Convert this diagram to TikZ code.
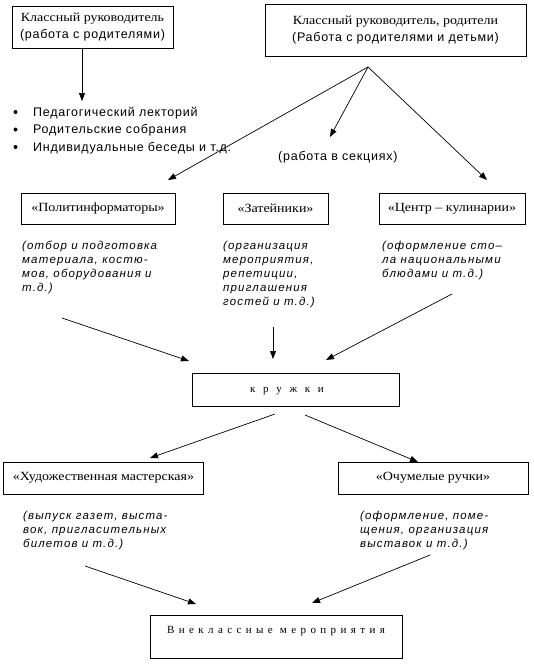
\documentclass[tikz,border=0pt]{standalone}
\usepackage{fontspec}
\usetikzlibrary{arrows.meta}
\setmainfont{Liberation Serif}
\newfontfamily\bxfont[FakeStretch=1.12]{Liberation Serif}
\newfontfamily\safont[LetterSpace=6]{Liberation Sans}
\newfontfamily\itfont[LetterSpace=10]{Liberation Sans Italic}
\newfontfamily\spfont[LetterSpace=40]{Liberation Serif}
\newfontfamily\kfont[LetterSpace=45]{Liberation Serif}
\begin{document}
\begin{tikzpicture}[x=1pt,y=-1pt,
  box/.style={draw, line width=0.8pt, inner sep=0pt, align=center},
  lbl/.style={box, font=\bxfont\fontsize{12.5}{14}\selectfont},
  two/.style={box, font=\fontsize{12.5}{16.5}\selectfont},
  arr/.style={draw, line width=0.7pt, -{Triangle[length=8pt,width=6pt]}},
  note/.style={anchor=base west, inner sep=0pt, align=left, font=\itfont\fontsize{11.5}{14}\selectfont},
  bul/.style={anchor=base west, inner sep=0pt, font=\safont\fontsize{12.5}{14}\selectfont}]
\useasboundingbox[fill=white] (0,0) rectangle (534,664);

% top boxes
\node[two, minimum width=161pt, minimum height=42pt] (b1) at (92.5,27)
  {{\bxfont Классный руководитель}\\{\safont (работа с родителями)}};
\node[two, minimum width=261pt, minimum height=52pt] (b2) at (395.5,30)
  {{\bxfont Классный руководитель, родители}\\{\safont (Работа с родителями и детьми)}};

% bullets
\node[bul] (l1) at (33,116) {Педагогический лекторий};
\node[bul] (l2) at (33,133.5) {Родительские собрания};
\node[bul] (l3) at (33,151) {Индивидуальные беседы и т.д.};
\foreach \y in {112,129.5,147} \fill (15.5,\y) circle (2pt);
\coordinate (b1out) at (82,48);
\coordinate (b1tip) at (82,101);
\draw[arr] (b1out) -- (b1tip);

% fan
\coordinate (fan) at (368,67);
\coordinate (t1) at (168,180);
\coordinate (t2) at (330,137);
\coordinate (t3) at (487,180);
\draw[arr] (fan) -- (t1);
\draw[arr] (fan) -- (t2);
\draw[arr] (fan) -- (t3);
\node[bul] (sek) at (278,160) {(работа в секциях)};

% second row boxes
\node[lbl, minimum width=154pt, minimum height=31pt] (p1) at (98,208.5) {«Политинформаторы»};
\node[lbl, minimum width=105pt, minimum height=31pt] (p2) at (275.5,208.5) {«Затейники»};
\node[lbl, minimum width=146pt, minimum height=31pt] (p3) at (452,208.5) {«Центр – кулинарии»};

\node[note] (n1) at (22,291) {(отбор и подготовка\\материала, костю-\\мов, оборудования и\\т.д.)};
\node[note] (n2) at (223,305) {(организация\\мероприятия,\\репетиции,\\приглашения\\гостей и т.д.)};
\node[note] (n3) at (382,277) {(оформление сто–\\ла национальными\\блюдами и т.д.)};

% kruzhki
\node[box, minimum width=207pt, minimum height=33pt] (k) at (295.5,390) {};
\node[inner sep=0pt, font=\kfont\fontsize{11}{12}\selectfont] (kt) at (287,391) {к р у ж к и};
\coordinate (s1) at (62,318);   \coordinate (e1) at (189,361);
\coordinate (s2) at (273,327);  \coordinate (e2) at (273,359);
\coordinate (s3) at (452,294);  \coordinate (e3) at (326,360);
\draw[arr] (s1) -- (e1);
\draw[arr] (s2) -- (e2);
\draw[arr] (s3) -- (e3);

% third row
\coordinate (k1) at (275,414); \coordinate (h1) at (150,458);
\coordinate (k2) at (305,415); \coordinate (h2) at (418,462);
\draw[arr] (k1) -- (h1);
\draw[arr] (k2) -- (h2);
\node[lbl, minimum width=200pt, minimum height=32pt] (q1) at (103.5,478) {«Художественная мастерская»};
\node[lbl, minimum width=190pt, minimum height=32pt] (q2) at (433,478) {«Очумелые ручки»};
\node[note] (m1) at (23,547) {(выпуск газет, выста-\\вок, пригласительных\\билетов и т.д.)};
\node[note] (m2) at (360,547) {(оформление, поме-\\щения, организация\\выставок и т.д.)};

% final
\coordinate (f1) at (85,566);  \coordinate (g1) at (196,604);
\coordinate (f2) at (430,555); \coordinate (g2) at (312,603);
\draw[arr] (f1) -- (g1);
\draw[arr] (f2) -- (g2);
\node[box, minimum width=252pt, minimum height=43pt] (v) at (276,636.5) {};
\node[inner sep=0pt, font=\spfont\fontsize{11}{12}\selectfont] (vt) at (276,631) {Внеклассные мероприятия};
\end{tikzpicture}
\end{document}
